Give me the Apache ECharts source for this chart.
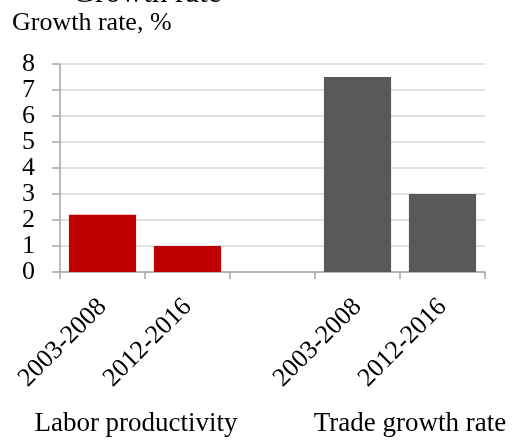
<!DOCTYPE html>
<html>
<head>
<meta charset="utf-8">
<script src="https://cdn.jsdelivr.net/npm/echarts@6/dist/echarts.min.js"></script>
<style>
  html, body { margin: 0; padding: 0; background: #fff; }
  #chart { width: 512px; height: 441px; }
</style>
</head>
<body>
<div id="chart"></div>
<script>
// Period categories; the blank slot separates the two groups
const categories = ['2003-2008', '2012-2016', '', '2003-2008', '2012-2016'];
const groupNames = ['Labor productivity', 'Trade growth rate'];
const laborProductivity = [2.2, 1.0];
const tradeGrowth = [7.5, 3.0];
const yTicks = [0, 1, 2, 3, 4, 5, 6, 7, 8];

const serif = "'Liberation Serif', 'Times New Roman', serif";

// Each series fills only its own group's slots
const laborData = categories.map((c, i) => i < laborProductivity.length ? laborProductivity[i] : '-');
const tradeData = categories.map((c, i) => {
  const k = i - (categories.length - tradeGrowth.length);
  return k >= 0 ? tradeGrowth[k] : '-';
});

const chart = echarts.init(document.getElementById('chart'), null, { renderer: 'canvas' });
chart.setOption({
  animation: false,
  backgroundColor: '#ffffff',
  grid: { left: 60, right: 27, top: 64, bottom: 169 },
  xAxis: {
    type: 'category',
    data: categories,
    boundaryGap: true,
    axisLine: { lineStyle: { color: '#a6a6a6', width: 1.5 } },
    axisTick: { show: true, alignWithLabel: false, length: 7, lineStyle: { color: '#a6a6a6', width: 1.5 } },
    axisLabel: {
      interval: 0, rotate: 45, margin: 31,
      fontFamily: serif, fontSize: 26, color: '#000'
    },
    splitLine: { show: false }
  },
  yAxis: {
    type: 'value',
    min: yTicks[0], max: yTicks[yTicks.length - 1], interval: 1,
    axisLine: { show: true, lineStyle: { color: '#a6a6a6', width: 1.5 } },
    axisTick: { show: true, length: 8, lineStyle: { color: '#a6a6a6', width: 1.5 } },
    axisLabel: { margin: 25, fontFamily: serif, fontSize: 26, color: '#000' },
    splitLine: { show: true, lineStyle: { color: '#d9d9d9', width: 1.5 } }
  },
  series: [
    {
      name: groupNames[0], type: 'bar', stack: 'all', data: laborData,
      barCategoryGap: '21%', itemStyle: { color: '#c00000' }
    },
    {
      name: groupNames[1], type: 'bar', stack: 'all', data: tradeData,
      barCategoryGap: '21%', itemStyle: { color: '#595959' }
    }
  ],
  graphic: [
    { type: 'text', style: { x: 147, y: 9, text: 'Growth rate', font: '31px ' + serif, fill: '#000', textAlign: 'center', textVerticalAlign: 'bottom' } },
    { type: 'text', style: { x: 12, y: 36, text: 'Growth rate, %', font: '26px ' + serif, fill: '#000', textAlign: 'left', textVerticalAlign: 'bottom' } },
    { type: 'text', style: { x: 136, y: 437, text: groupNames[0], font: '27px ' + serif, fill: '#000', textAlign: 'center', textVerticalAlign: 'bottom' } },
    { type: 'text', style: { x: 410, y: 437, text: groupNames[1], font: '27px ' + serif, fill: '#000', textAlign: 'center', textVerticalAlign: 'bottom' } }
  ]
});
</script>
</body>
</html>
